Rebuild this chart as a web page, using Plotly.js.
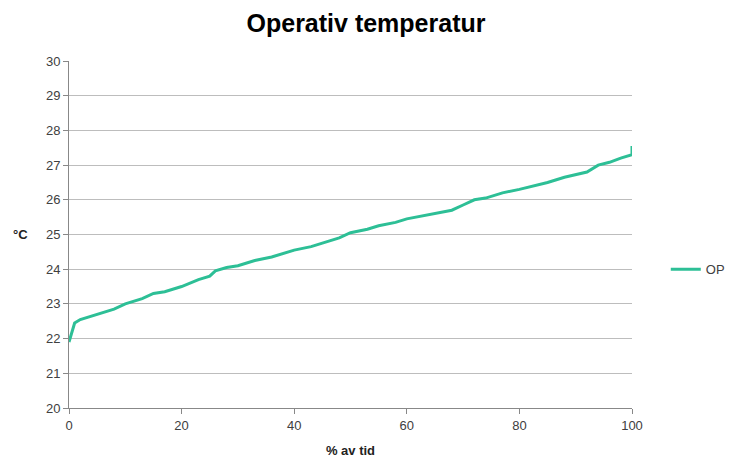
<!DOCTYPE html>
<html>
<head>
<meta charset="utf-8">
<script src="https://cdn.plot.ly/plotly-3.0.1.min.js"></script>
<style>html,body{margin:0;padding:0;background:#fff;}#chart{width:732px;height:461px;}</style>
</head>
<body>
<div id="chart"></div>
<script>
const timePct = [0, 0.5, 1, 2, 5, 8, 10, 13, 15, 17, 20, 23, 25, 26, 28, 30, 33, 36, 40, 43, 45, 48, 50, 53, 55, 58, 60, 63, 65, 68, 70, 72, 74, 75, 77, 80, 83, 85, 88, 90, 92, 94, 96, 98, 100, 100];
const opTemp = [21.9, 22.2, 22.45, 22.55, 22.7, 22.85, 23.0, 23.15, 23.3, 23.35, 23.5, 23.7, 23.8, 23.95, 24.05, 24.1, 24.25, 24.35, 24.55, 24.65, 24.75, 24.9, 25.05, 25.15, 25.25, 25.35, 25.45, 25.55, 25.6, 25.7, 25.85, 26.0, 26.05, 26.1, 26.2, 26.3, 26.42, 26.5, 26.65, 26.72, 26.8, 27.0, 27.08, 27.2, 27.3, 27.55];
const seriesName = "OP";
const xTicks = [0, 20, 40, 60, 80, 100];

const data = [{
  x: timePct, y: opTemp, type: "scatter", mode: "lines", name: seriesName,
  line: {color: "#2dbf96", width: 3}
}];
const layout = {
  width: 732, height: 461,
  margin: {l: 69, r: 100, t: 61, b: 53, autoexpand: false},
  paper_bgcolor: "#fff", plot_bgcolor: "#fff",
  font: {family: "Liberation Sans, Arial, sans-serif", color: "#404040", size: 13},
  title: {text: "<b>Operativ temperatur</b>", x: 0.5, xanchor: "center", y: 0.968, yanchor: "top", font: {size: 25, color: "#000", family: "Liberation Sans, Arial, sans-serif"}},
  xaxis: {
    range: [0, 100], tickvals: xTicks, showgrid: false, zeroline: false,
    showline: true, linecolor: "#888", linewidth: 1, ticks: "outside", ticklen: 5, tickcolor: "#888",
    title: {text: "<b>% av tid</b>", font: {size: 13, color: "#222"}, standoff: 14}
  },
  yaxis: {
    range: [20, 30], dtick: 1, showgrid: true, gridcolor: "#bdbdbd", gridwidth: 1, zeroline: false,
    showline: true, linecolor: "#888", linewidth: 1, ticks: "outside", ticklen: 5, tickcolor: "#888"
  },
  annotations: [{
    text: "<b>°C</b>", xref: "paper", yref: "paper", x: 0, y: 0.5, xanchor: "right", yanchor: "middle",
    xshift: -39, showarrow: false, font: {size: 13, color: "#222"}
  }],
  showlegend: true,
  legend: {x: 1.06, y: 0.40, xanchor: "left", yanchor: "middle", font: {size: 13, color: "#404040"}, bgcolor: "rgba(0,0,0,0)"}
};
Plotly.newPlot("chart", data, layout, {displayModeBar: false, staticPlot: true});
</script>
</body>
</html>
